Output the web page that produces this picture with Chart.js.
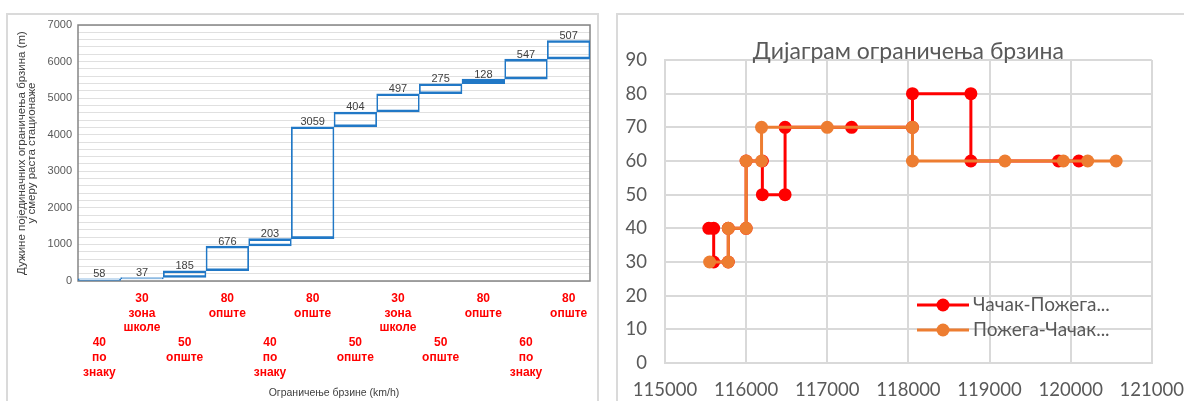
<!DOCTYPE html>
<html>
<head>
<meta charset="utf-8">
<title>Ограничења брзина</title>
<script src="https://cdn.jsdelivr.net/npm/chart.js@4.4.1/dist/chart.umd.min.js"></script>
<style>
  html, body { margin: 0; padding: 0; background: #fff; }
  body { position: relative; width: 1184px; height: 401px; overflow: hidden; }
  .frame { position: absolute; top: 13px; height: 420px; border: 2px solid #dadada; box-sizing: border-box; }
  #frameLeft { left: 6px; width: 593px; }
  #frameRight { left: 616px; width: 600px; }
  canvas { position: absolute; top: 0; }
  #steps { left: 0; }
  #speeds { left: 600px; }
</style>
</head>
<body>
<div class="frame" id="frameLeft"></div>
<div class="frame" id="frameRight"></div>
<canvas id="steps" width="600" height="401"></canvas>
<canvas id="speeds" width="584" height="401"></canvas>
<script>
// left chart: length of every speed-limit section (m), in chainage order
const sectionLengths = [58, 37, 185, 676, 203, 3059, 404, 497, 275, 128, 547, 507]
const sectionSpeeds = ['40', '30', '50', '80', '40', '80', '50', '30', '50', '80', '60', '80']
const sectionTypes = ['по знаку', 'зона школе', 'опште', 'опште', 'по знаку', 'опште', 'опште', 'зона школе', 'опште', 'опште', 'по знаку', 'опште']
const lengthTicks = [0, 1000, 2000, 3000, 4000, 5000, 6000, 7000]

// right chart: chainage (m) and speed limit (km/h) for each direction
const cacakPozegaKm = [115540, 115600, 115600, 115780, 115780, 116000, 116000, 116200, 116200, 116480, 116480, 117300, 118050, 118050, 118770, 118770, 119850, 120100]
const cacakPozegaSpeed = [40, 40, 30, 30, 40, 40, 60, 60, 50, 50, 70, 70, 70, 80, 80, 60, 60, 60]
const pozegaCacakKm = [115550, 115780, 115780, 116000, 116000, 116190, 116190, 117000, 118050, 118050, 119190, 119910, 120210, 120560]
const pozegaCacakSpeed = [30, 30, 40, 40, 60, 60, 70, 70, 70, 60, 60, 60, 60, 60]
const kmTicks = [115000, 116000, 117000, 118000, 119000, 120000, 121000]
const speedTicks = [0, 10, 20, 30, 40, 50, 60, 70, 80, 90]

const clrRed = '#ff0000'
const clrOrange = '#ed7d31'
const clrBlue = '#2178c6'
const clrText = '#404040'
const clrGrey = '#595959'

// each section is a floating bar from the running total before it to the total after it
let running = 0
const ranges = sectionLengths.map((len) => {
  const from = running
  running += len
  return [from, running]
})

// odd sections go in the upper row, even ones three lines lower
const sectionLabels = sectionSpeeds.map((speed, i) => {
  const lines = [speed, ...sectionTypes[i].split(' ')]
  return i % 2 === 0 ? ['', '', '', ...lines] : lines
})

const plotFrame = {
  id: 'plotFrame',
  beforeDatasetsDraw: (chart, args, opts) => {
    const { ctx, chartArea: a } = chart
    ctx.save()
    ctx.strokeStyle = opts.color
    ctx.lineWidth = opts.width
    ctx.strokeRect(a.left, a.top, a.right - a.left, a.bottom - a.top)
    ctx.restore()
  },
}

const barValues = {
  id: 'barValues',
  afterDatasetsDraw: (chart) => {
    const { ctx } = chart
    ctx.save()
    ctx.font = '11px "Liberation Sans", Arial'
    ctx.fillStyle = clrText
    ctx.textAlign = 'center'
    ctx.textBaseline = 'bottom'
    chart.getDatasetMeta(0).data.forEach((bar, i) => {
      ctx.fillText(sectionLengths[i], bar.x, bar.y + 1)
    })
    ctx.restore()
  },
}

// Excel-like legend sitting inside the plot
const lineLegend = {
  id: 'lineLegend',
  afterDatasetsDraw: (chart, args, opts) => {
    const { ctx } = chart
    ctx.save()
    ctx.font = opts.font
    ctx.textBaseline = 'middle'
    chart.data.datasets.forEach((ds, i) => {
      const y = opts.y + i * opts.gap
      ctx.strokeStyle = ds.borderColor
      ctx.lineWidth = 3
      ctx.beginPath()
      ctx.moveTo(opts.x, y)
      ctx.lineTo(opts.x + 52, y)
      ctx.stroke()
      ctx.fillStyle = ds.borderColor
      ctx.beginPath()
      ctx.arc(opts.x + 26, y, 6.5, 0, Math.PI * 2)
      ctx.fill()
      ctx.fillStyle = opts.color
      ctx.fillText(ds.label, opts.x + 56, y)
    })
    ctx.restore()
  },
}

Chart.defaults.font.family = '"Liberation Sans", Arial, sans-serif'

new Chart(document.getElementById('steps'), {
  type: 'bar',
  data: {
    labels: sectionLabels,
    datasets: [
      {
        data: ranges,
        borderColor: clrBlue,
        backgroundColor: 'rgba(255, 255, 255, 0)',
        borderWidth: { top: 2, bottom: 2, left: 1, right: 1 },
        borderSkipped: false,
        barPercentage: 1,
        categoryPercentage: 1,
      },
    ],
  },
  options: {
    responsive: false,
    animation: false,
    layout: { padding: { top: 25, right: 10 } },
    plugins: {
      legend: { display: false },
      tooltip: { enabled: false },
      plotFrame: { color: '#858585', width: 1.5 },
    },
    scales: {
      x: {
        grid: { display: false },
        border: { display: false },
        ticks: {
          color: clrRed,
          font: { size: 12, weight: 'bold', lineHeight: '14.8px' },
          padding: 2,
          maxRotation: 0,
          autoSkip: false,
        },
        title: {
          display: true,
          text: 'Ограничење брзине (km/h)',
          color: clrText,
          font: { size: 10.5 },
          padding: { top: 0, bottom: 2 },
        },
        afterFit: (scale) => {
          scale.height = 120
        },
      },
      y: {
        min: 0,
        max: 7000,
        grid: { color: '#e0e0e0', drawTicks: false },
        border: { display: false },
        ticks: {
          stepSize: 200,
          autoSkip: false,
          padding: 6,
          color: clrGrey,
          font: { size: 11 },
          callback: (v) => (lengthTicks.includes(v) ? v : ''),
        },
        title: {
          display: true,
          text: ['Дужине појединачних ограничења брзина (m)', 'у смеру раста стационаже'],
          color: clrText,
          font: { size: 11.5, lineHeight: '10px' },
          padding: { top: 16.5 },
        },
        afterFit: (scale) => {
          scale.width = 78
        },
      },
    },
  },
  plugins: [plotFrame, barValues],
})

const toPoints = (kms, speeds) => kms.map((x, i) => ({ x, y: speeds[i] }))
const latoFamily = 'Lato, "Open Sans", sans-serif'
const tickFont = { family: latoFamily, size: 18.5 }

new Chart(document.getElementById('speeds'), {
  type: 'scatter',
  data: {
    datasets: [
      {
        label: 'Чачак-Пожега...',
        data: toPoints(cacakPozegaKm, cacakPozegaSpeed),
        borderColor: clrRed,
        backgroundColor: clrRed,
        showLine: true,
        borderWidth: 3,
        pointRadius: 6.5,
        pointBorderWidth: 0,
        order: 1,
      },
      {
        label: 'Пожега-Чачак...',
        data: toPoints(pozegaCacakKm, pozegaCacakSpeed),
        borderColor: clrOrange,
        backgroundColor: clrOrange,
        showLine: true,
        borderWidth: 3,
        pointRadius: 6.5,
        pointBorderWidth: 0,
        order: 0,
      },
    ],
  },
  options: {
    responsive: false,
    animation: false,
    layout: { padding: { right: 32 } },
    plugins: {
      legend: { display: false },
      tooltip: { enabled: false },
      title: {
        display: true,
        fullSize: false,
        text: 'Дијаграм ограничења брзина',
        color: clrGrey,
        font: { family: latoFamily, size: 23, weight: 'normal', lineHeight: 1.2 },
        padding: { top: 38.2, bottom: -5.8 },
      },
      lineLegend: { x: 317, y: 305, gap: 25, font: '19px ' + latoFamily, color: clrGrey },
    },
    scales: {
      x: {
        type: 'linear',
        min: kmTicks[0],
        max: kmTicks[kmTicks.length - 1],
        grid: { color: '#d9d9d9', lineWidth: 2, tickLength: 16, tickColor: 'rgba(0, 0, 0, 0)' },
        border: { color: '#d9d9d9', width: 2 },
        ticks: { stepSize: 1000, padding: 0, color: clrGrey, font: tickFont, callback: (v) => v },
        afterFit: (scale) => {
          scale.height = 38
        },
      },
      y: {
        min: speedTicks[0],
        max: speedTicks[speedTicks.length - 1],
        grid: { color: '#d9d9d9', lineWidth: 2, drawTicks: false },
        border: { color: '#d9d9d9', width: 2 },
        ticks: { stepSize: 10, padding: 18, color: clrGrey, font: tickFont },
        afterFit: (scale) => {
          scale.width = 65
        },
      },
    },
  },
  plugins: [lineLegend],
})
</script>
</body>
</html>
